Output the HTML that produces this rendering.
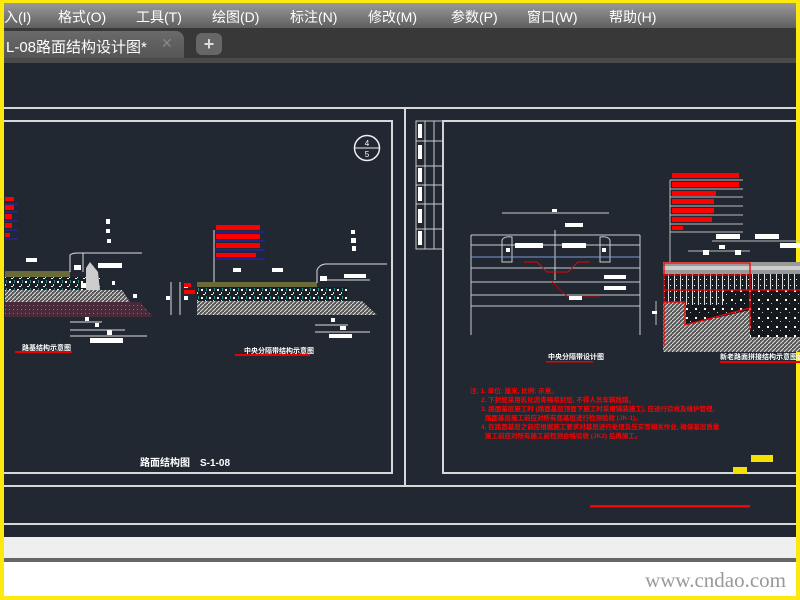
<!DOCTYPE html>
<html><head><meta charset="utf-8"><style>
html,body{margin:0;padding:0}
body{width:800px;height:600px;overflow:hidden;background:#fde910;position:relative;font-family:"Liberation Sans","Noto Sans CJK SC",sans-serif}
#menu{position:absolute;left:4px;top:3px;width:792px;height:25px;background:linear-gradient(#9a9a9a,#5e5e5e);color:#fff;font-size:14px}
#menu span{position:absolute;top:4px}
#tabs{position:absolute;left:4px;top:28px;width:792px;height:30px;background:#383838}
#tab{position:absolute;left:0;top:3px;width:180px;height:27px;background:linear-gradient(#6a6a6a,#555);border-radius:0 8px 0 0;color:#fff;font-size:15px}
#strip{position:absolute;left:4px;top:58px;width:792px;height:5px;background:#4a4a4a}
#canvas{position:absolute;left:4px;top:63px;width:792px;height:474px;background:#212831}
#gray{position:absolute;left:4px;top:537px;width:792px;height:21px;background:#efefef}
#dk{position:absolute;left:4px;top:558px;width:792px;height:4px;background:#666}
#white{position:absolute;left:4px;top:562px;width:792px;height:34px;background:#fff}
#wm{position:absolute;right:14px;top:568px;font-family:"Liberation Serif",serif;font-size:21px;color:#999;letter-spacing:0}
</style></head><body>
<div id="menu">
<span style="left:0">入(I)</span><span style="left:54px">格式(O)</span><span style="left:132px">工具(T)</span><span style="left:208px">绘图(D)</span><span style="left:286px">标注(N)</span><span style="left:364px">修改(M)</span><span style="left:447px">参数(P)</span><span style="left:523px">窗口(W)</span><span style="left:605px">帮助(H)</span>
</div>
<div id="tabs"><div id="tab"><span style="position:absolute;left:2px;top:5px">L-08路面结构设计图*</span><span style="position:absolute;left:157px;top:4px;color:#888;font-size:14px">✕</span></div>
<div style="position:absolute;left:192px;top:5px;width:26px;height:22px;background:#666;border-radius:6px;color:#ddd;font-size:18px;text-align:center;line-height:22px;font-weight:bold">+</div></div>
<div id="strip"></div>
<div id="canvas"></div>
<div id="gray"></div><div id="dk"></div><div id="white"></div>
<div id="wm">www.cndao.com</div>
<svg style="position:absolute;left:0;top:0" width="800" height="600" viewBox="0 0 800 600">
<defs>
<pattern id="spk" width="8" height="8" patternUnits="userSpaceOnUse"><rect width="8" height="8" fill="#1a1f26"/><rect x="1" y="1" width="2" height="2" fill="#fff"/><rect x="5" y="4" width="1" height="2" fill="#ddd"/><rect x="3" y="6" width="2" height="1" fill="#eee"/><rect x="6" y="0" width="1" height="3" fill="#2a8a8a"/></pattern>
<pattern id="hat" width="4" height="4" patternUnits="userSpaceOnUse"><rect width="4" height="4" fill="#555"/><path d="M0 4L4 0" stroke="#ddd" stroke-width="1"/></pattern>
<pattern id="pur" width="4" height="4" patternUnits="userSpaceOnUse"><rect width="4" height="4" fill="#4a2a3a"/><rect x="1" y="1" width="1" height="1" fill="#b06080"/></pattern>
<pattern id="dot" width="9" height="9" patternUnits="userSpaceOnUse"><rect width="9" height="9" fill="#15191e"/><rect x="2" y="2" width="2" height="2" fill="#fff"/><rect x="6" y="6" width="1" height="1" fill="#ccc"/></pattern>
<pattern id="vl" width="6" height="6" patternUnits="userSpaceOnUse"><rect width="6" height="6" fill="#1a1f26"/><rect x="2" y="0" width="1" height="6" fill="#ddd"/><rect x="4" y="3" width="1" height="1" fill="#fff"/></pattern>
</defs>
<g stroke="#d8d8d8" fill="none" stroke-width="2">
<line x1="4" y1="108" x2="796" y2="108"/>
<line x1="4" y1="486" x2="796" y2="486"/>
<line x1="4" y1="524" x2="796" y2="524"/>
<line x1="405" y1="108" x2="405" y2="486"/>
<polyline points="4,121 392,121 392,473 4,473"/>
<polyline points="796,121 443,121 443,473 796,473"/>
</g>
<!-- table -->
<g stroke="#ccc" stroke-width="1" fill="none">
<rect x="416" y="121" width="27" height="128"/>
<line x1="425" y1="121" x2="425" y2="249"/><line x1="434" y1="121" x2="434" y2="249"/>
<line x1="416" y1="141" x2="443" y2="141"/><line x1="416" y1="166" x2="443" y2="166"/><line x1="416" y1="185" x2="443" y2="185"/><line x1="416" y1="204" x2="443" y2="204"/><line x1="416" y1="229" x2="443" y2="229"/>
</g>
<g fill="#fff"><rect x="418" y="124" width="4" height="14"/><rect x="418" y="145" width="4" height="14"/><rect x="418" y="168" width="4" height="14"/><rect x="418" y="187" width="4" height="14"/><rect x="418" y="209" width="4" height="14"/><rect x="418" y="231" width="4" height="14"/></g>
<circle cx="367" cy="148" r="12.5" stroke="#eee" stroke-width="1.5" fill="none"/><line x1="355" y1="148" x2="379" y2="148" stroke="#eee"/>
<text x="367" y="146" font-size="8" fill="#fff" text-anchor="middle">4</text><text x="367" y="157" font-size="8" fill="#fff" text-anchor="middle">5</text>
<g fill="#fff"><rect x="351" y="230" width="4" height="4"/><rect x="351" y="238" width="5" height="5"/><rect x="352" y="246" width="4" height="5"/>
<rect x="106" y="219" width="4" height="5"/><rect x="106" y="229" width="4" height="4"/><rect x="107" y="239" width="4" height="4"/></g>
<!-- left red bars -->
<g fill="#f00"><rect x="5" y="197" width="9" height="4"/><rect x="5" y="205" width="9" height="5"/><rect x="5" y="214" width="7" height="5"/><rect x="5" y="223" width="7" height="5"/><rect x="5" y="233" width="5" height="4"/></g>
<g stroke="#22d" stroke-width="1"><line x1="5" y1="204" x2="18" y2="204"/><line x1="5" y1="212" x2="18" y2="212"/><line x1="5" y1="221" x2="18" y2="221"/><line x1="5" y1="230" x2="18" y2="230"/><line x1="5" y1="239" x2="18" y2="239"/></g>
<!-- left section -->
<rect x="5" y="271" width="65" height="6" fill="#6b6a3a"/>
<rect x="5" y="277" width="95" height="13" fill="url(#spk)"/>
<polygon points="5,290 122,290 130,302 5,302" fill="url(#hat)"/>
<polygon points="5,302 140,302 153,317 5,317" fill="url(#pur)"/>
<path d="M70,272 L70,255 Q72,253 78,253 L142,253" stroke="#ddd" fill="none"/>
<line x1="83" y1="253" x2="83" y2="272" stroke="#ddd"/>
<polygon points="86,268 90,262 98,272 100,290 86,290" fill="#ccc"/>
<g fill="#fff"><rect x="26" y="258" width="11" height="4"/><rect x="74" y="265" width="7" height="5"/><rect x="98" y="263" width="24" height="5"/><rect x="81" y="283" width="5" height="5"/><rect x="112" y="281" width="3" height="4"/><rect x="133" y="294" width="4" height="4"/><rect x="85" y="317" width="4" height="4"/><rect x="95" y="323" width="4" height="4"/><rect x="107" y="330" width="5" height="5"/><rect x="90" y="338" width="33" height="5"/></g>
<g stroke="#ddd"><line x1="70" y1="322" x2="102" y2="322"/><line x1="70" y1="330" x2="125" y2="330"/><line x1="70" y1="336" x2="147" y2="336"/></g>
<text x="22" y="350" font-size="7" fill="#fff" font-weight="bold">路基结构示意图</text>
<rect x="15" y="351" width="57" height="2" fill="#e00"/>
<!-- middle section -->
<g fill="#f00"><rect x="216" y="225" width="44" height="5"/><rect x="216" y="234" width="44" height="5"/><rect x="216" y="243" width="44" height="5"/><rect x="216" y="253" width="40" height="4"/></g>
<g stroke="#22d"><line x1="214" y1="232" x2="265" y2="232"/><line x1="214" y1="241" x2="265" y2="241"/><line x1="214" y1="250" x2="265" y2="250"/><line x1="214" y1="259" x2="265" y2="259"/></g>
<line x1="214" y1="230" x2="214" y2="282" stroke="#ddd"/>
<rect x="197" y="282" width="120" height="5" fill="#6b6a3a"/>
<rect x="197" y="287" width="150" height="14" fill="url(#spk)"/>
<polygon points="197,301 362,301 377,315 197,315" fill="url(#hat)"/>
<path d="M317,283 L317,270 Q319,265 325,264 L387,264" stroke="#ddd" fill="none"/>
<g fill="#fff"><rect x="233" y="268" width="8" height="4"/><rect x="272" y="268" width="11" height="4"/><rect x="320" y="276" width="7" height="5"/><rect x="344" y="274" width="22" height="4"/><rect x="184" y="284" width="4" height="4"/><rect x="184" y="296" width="4" height="4"/><rect x="166" y="296" width="4" height="4"/><rect x="331" y="318" width="4" height="4"/><rect x="340" y="326" width="6" height="4"/><rect x="329" y="334" width="23" height="4"/></g>
<rect x="184" y="283" width="7" height="4" fill="#f00"/><rect x="184" y="290" width="11" height="4" fill="#f00"/>
<g stroke="#ddd"><line x1="171" y1="282" x2="171" y2="315"/><line x1="180" y1="282" x2="180" y2="315"/><line x1="315" y1="325" x2="348" y2="325"/><line x1="315" y1="332" x2="370" y2="332"/><line x1="327" y1="280" x2="370" y2="280"/></g>
<text x="244" y="353" font-size="7" fill="#fff" font-weight="bold">中央分隔带结构示意图</text>
<rect x="235" y="354" width="75" height="2" fill="#e00"/>
<text x="140" y="466" font-size="10" fill="#fff" font-weight="bold">路面结构图　S-1-08</text>
<!-- median drawing -->
<g stroke="#ccc" stroke-width="1" fill="none">
<line x1="502" y1="213" x2="609" y2="213"/>
<line x1="471" y1="235" x2="640" y2="235"/><line x1="471" y1="245" x2="640" y2="245"/><line x1="471" y1="268" x2="640" y2="268"/><line x1="471" y1="282" x2="640" y2="282"/><line x1="471" y1="295" x2="640" y2="295"/><line x1="471" y1="306" x2="640" y2="306"/>
<line x1="471" y1="235" x2="471" y2="335"/><line x1="640" y1="235" x2="640" y2="335"/>
<line x1="555" y1="230" x2="555" y2="280"/>
<path d="M502,240 Q504,236 512,237 L512,262 L502,262 Z"/><path d="M610,240 Q608,236 600,237 L600,262 L610,262 Z"/>
</g>
<line x1="471" y1="257" x2="640" y2="257" stroke="#7a9ad8"/>
<polyline points="524,262 537,262 547,272 568,272 578,262 590,262" stroke="#e00" fill="none"/>
<polyline points="552,282 568,297 600,297" stroke="#b00" fill="none"/>
<g fill="#fff"><rect x="506" y="248" width="4" height="4"/><rect x="602" y="248" width="4" height="4"/><rect x="515" y="243" width="28" height="5"/><rect x="562" y="243" width="24" height="5"/><rect x="565" y="223" width="18" height="4"/><rect x="552" y="209" width="5" height="3"/><rect x="604" y="275" width="22" height="4"/><rect x="604" y="286" width="22" height="4"/><rect x="569" y="296" width="13" height="4"/></g>
<text x="548" y="359" font-size="7" fill="#fff" font-weight="bold">中央分隔带设计图</text>
<rect x="546" y="361" width="47" height="1.5" fill="#e00"/>
<g font-size="6.5" fill="#f00" font-weight="bold">
<text x="470" y="393">注: 1. 单位: 厘米, 比例: 示意。</text>
<text x="481" y="402">2. 下封层采用乳化沥青稀浆封层, 不得人员车辆践踏。</text>
<text x="481" y="411">3. 路面基层施工时 (路面基层顶面下施工时采用铺装施工), 应进行验收及维护管理,</text>
<text x="485" y="420">路面基层施工前应对所有底基层进行检测验收 (JK-1)。</text>
<text x="481" y="429">4. 在路面基层之前应根据施工要求对基层进行处理及压实等相关作业, 确保基层质量</text>
<text x="485" y="438">施工前应对所有施工前检测合格验收 (JK2) 后再施工。</text>
</g>
<!-- right section -->
<g fill="#f00"><rect x="672" y="173" width="67" height="5"/><rect x="672" y="182" width="67" height="5"/><rect x="672" y="191" width="44" height="5"/><rect x="672" y="199" width="42" height="5"/><rect x="672" y="208" width="42" height="5"/><rect x="672" y="217" width="40" height="5"/><rect x="672" y="226" width="11" height="4"/></g>
<g stroke="#bbb"><line x1="670" y1="180" x2="743" y2="180"/><line x1="670" y1="189" x2="743" y2="189"/><line x1="670" y1="197" x2="743" y2="197"/><line x1="670" y1="206" x2="743" y2="206"/><line x1="670" y1="215" x2="743" y2="215"/><line x1="670" y1="224" x2="743" y2="224"/><line x1="670" y1="232" x2="743" y2="232"/><line x1="670" y1="180" x2="670" y2="262"/><line x1="712" y1="241" x2="800" y2="241"/><line x1="688" y1="251" x2="750" y2="251"/><line x1="656" y1="301" x2="656" y2="325"/></g>
<g fill="#fff"><rect x="716" y="234" width="24" height="5"/><rect x="755" y="234" width="24" height="5"/><rect x="719" y="245" width="6" height="4"/><rect x="703" y="250" width="6" height="5"/><rect x="735" y="250" width="6" height="5"/><rect x="780" y="243" width="20" height="5"/><rect x="652" y="311" width="5" height="3"/></g>
<rect x="663" y="262" width="137" height="12" fill="#999"/>
<rect x="663" y="266" width="137" height="4" fill="#ccc"/>
<rect x="663" y="274" width="137" height="16" fill="url(#vl)"/>
<rect x="663" y="290" width="137" height="16" fill="url(#dot)"/>
<rect x="663" y="290" width="60" height="15" fill="url(#vl)"/>
<rect x="663" y="305" width="137" height="47" fill="url(#hat)"/>
<polygon points="686,305 750,305 750,310 686,325" fill="url(#dot)"/>
<rect x="750" y="290" width="50" height="47" fill="url(#dot)"/>
<rect x="663" y="302" width="22" height="17" fill="url(#hat)"/>
<g stroke="#f00" fill="none" stroke-width="1.2"><rect x="664" y="263" width="86" height="12"/><line x1="664" y1="290" x2="800" y2="290"/><polyline points="664,302 685,302 685,325 750,308"/><line x1="750" y1="263" x2="750" y2="330"/><line x1="664" y1="263" x2="664" y2="345"/></g>
<text x="720" y="359" font-size="7" fill="#fff" font-weight="bold">新老路面拼接结构示意图设计</text>
<rect x="720" y="361" width="80" height="2" fill="#e00"/>
<rect x="751" y="455" width="22" height="7" fill="#f5e000"/>
<rect x="733" y="467" width="14" height="7" fill="#f5e000"/>
<rect x="590" y="505" width="160" height="2.5" fill="#f00"/>
</svg>
</body></html>
